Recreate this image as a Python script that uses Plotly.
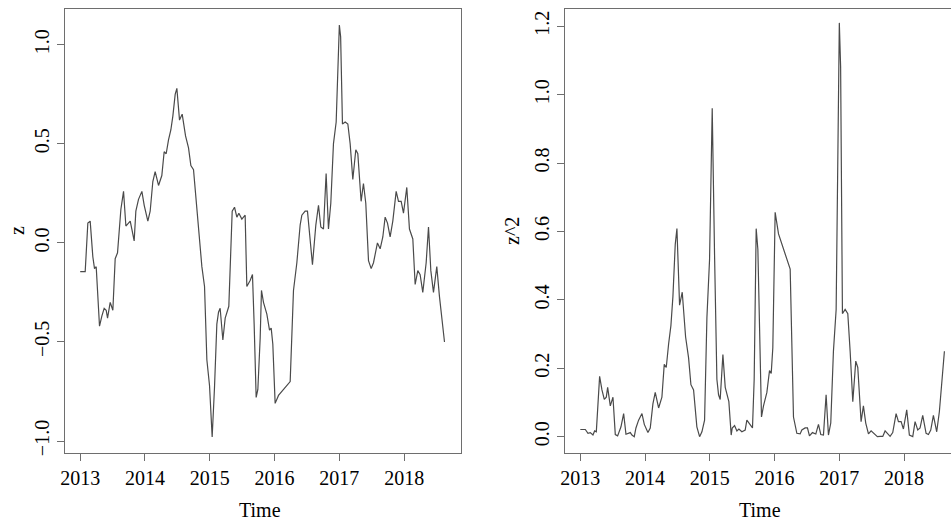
import plotly.graph_objects as go

# Time (decimal years) and series z
time = [2013.000, 2013.077, 2013.118, 2013.154, 2013.195, 2013.221, 2013.247, 2013.298,
        2013.334, 2013.370, 2013.401, 2013.422, 2013.463, 2013.504, 2013.540, 2013.576,
        2013.628, 2013.669, 2013.705, 2013.772, 2013.797, 2013.833, 2013.859, 2013.900,
        2013.952, 2013.988, 2014.044, 2014.080, 2014.121, 2014.157, 2014.209, 2014.260,
        2014.296, 2014.327, 2014.363, 2014.399, 2014.430, 2014.466, 2014.492, 2014.533,
        2014.574, 2014.626, 2014.672, 2014.708, 2014.749, 2014.800, 2014.842, 2014.878,
        2014.919, 2014.955, 2014.996, 2015.037, 2015.073, 2015.109, 2015.135, 2015.160,
        2015.202, 2015.238, 2015.294, 2015.330, 2015.346, 2015.382, 2015.418, 2015.449,
        2015.495, 2015.546, 2015.572, 2015.623, 2015.659, 2015.685, 2015.716, 2015.742,
        2015.778, 2015.798, 2015.829, 2015.881, 2015.922, 2015.948, 2015.973, 2016.009,
        2016.061, 2016.241, 2016.292, 2016.344, 2016.395, 2016.421, 2016.472, 2016.508,
        2016.539, 2016.585, 2016.637, 2016.678, 2016.714, 2016.755, 2016.796, 2016.832,
        2016.868, 2016.909, 2016.951, 2017.000, 2017.020, 2017.048, 2017.090, 2017.131,
        2017.167, 2017.208, 2017.254, 2017.285, 2017.336, 2017.372, 2017.408, 2017.450,
        2017.491, 2017.527, 2017.588, 2017.630, 2017.671, 2017.707, 2017.743, 2017.784,
        2017.825, 2017.877, 2017.913, 2017.954, 2017.990, 2018.041, 2018.082, 2018.134,
        2018.170, 2018.211, 2018.247, 2018.288, 2018.340, 2018.376, 2018.412, 2018.453,
        2018.504, 2018.545, 2018.623]

z = [-0.145, -0.145, 0.10, 0.11, -0.07, -0.13, -0.12, -0.42,
     -0.37, -0.33, -0.34, -0.38, -0.30, -0.34, -0.08, -0.05,
     0.17, 0.26, 0.085, 0.11, 0.07, 0.01, 0.16, 0.22,
     0.26, 0.19, 0.11, 0.16, 0.31, 0.36, 0.29, 0.34,
     0.46, 0.45, 0.52, 0.57, 0.64, 0.75, 0.78, 0.62,
     0.65, 0.54, 0.48, 0.39, 0.37, 0.17, 0.00, -0.12,
     -0.22, -0.59, -0.72, -0.98, -0.73, -0.41, -0.35, -0.33,
     -0.49, -0.38, -0.32, 0.07, 0.16, 0.18, 0.13, 0.15,
     0.12, 0.14, -0.22, -0.19, -0.16, -0.41, -0.78, -0.74,
     -0.48, -0.24, -0.30, -0.36, -0.44, -0.43, -0.51, -0.81,
     -0.77, -0.70, -0.24, -0.10, 0.09, 0.14, 0.16, 0.16,
     0.05, -0.11, 0.09, 0.19, 0.08, 0.07, 0.35, 0.07,
     0.20, 0.50, 0.61, 1.10, 1.04, 0.60, 0.61, 0.60,
     0.50, 0.32, 0.47, 0.45, 0.21, 0.30, 0.20, -0.09,
     -0.13, -0.10, 0.00, -0.03, 0.03, 0.13, 0.10, 0.03,
     0.11, 0.26, 0.21, 0.21, 0.15, 0.28, 0.07, 0.02,
     -0.21, -0.14, -0.16, -0.25, -0.10, 0.08, -0.14, -0.25,
     -0.12, -0.27, -0.50]

z_sq = [v * v for v in z]

year_ticks = [2013, 2014, 2015, 2016, 2017, 2018]
z_ticks = [-1.0, -0.5, 0.0, 0.5, 1.0]
z_tick_text = ["\u22121.0", "\u22120.5", "0.0", "0.5", "1.0"]
zsq_ticks = [0.0, 0.2, 0.4, 0.6, 0.8, 1.0, 1.2]
zsq_tick_text = ["0.0", "0.2", "0.4", "0.6", "0.8", "1.0", "1.2"]

W, H = 951, 529
FONT = "Liberation Serif"
LINE = "#4a4a4a"
AX = "#6e6e6e"

fig = go.Figure()
fig.add_trace(go.Scatter(x=time, y=z, mode="lines", line=dict(color=LINE, width=1.2),
                         xaxis="x", yaxis="y", showlegend=False, hoverinfo="skip"))
fig.add_trace(go.Scatter(x=time, y=z_sq, mode="lines", line=dict(color=LINE, width=1.2),
                         xaxis="x2", yaxis="y2", showlegend=False, hoverinfo="skip"))

ydom = [1 - 453.3 / H, 1 - 9 / H]
common_x = dict(tickvals=year_ticks, ticks="outside", ticklen=7, tickcolor=AX, tickwidth=1.2,
                showline=True, linecolor=AX, linewidth=1.3, mirror=True,
                showgrid=False, zeroline=False, automargin=False,
                tickfont=dict(family=FONT, size=20, color="black"))
common_y = dict(ticks="outside", ticklen=7, tickcolor=AX, tickwidth=1.2,
                showline=True, linecolor=AX, linewidth=1.3,
                showgrid=False, zeroline=False, tickangle=-90, automargin=False,
                tickfont=dict(family=FONT, size=20, color="black"))

fig.update_layout(
    width=W, height=H,
    margin=dict(l=0, r=0, t=0, b=0),
    paper_bgcolor="white", plot_bgcolor="white",
    xaxis=dict(domain=[65.3 / W, 460.5 / W], range=[2012.77, 2018.87], anchor="y", **common_x),
    yaxis=dict(domain=ydom, range=[-1.0621, 1.1807], anchor="x", mirror=True,
               tickvals=z_ticks, ticktext=z_tick_text, **common_y),
    xaxis2=dict(domain=[565.3 / W, 1.0], range=[2012.768, 2012.768 + (951 - 565.3) / 64.75],
                anchor="y2", **common_x),
    yaxis2=dict(domain=ydom, range=[-0.0485, 1.2506], anchor="x2", mirror=False,
                tickvals=zsq_ticks, ticktext=zsq_tick_text, **common_y),
)

def ann(text, x, y, angle=0):
    fig.add_annotation(text=text, x=x / W, y=1 - y / H, xref="paper", yref="paper",
                       showarrow=False, textangle=angle, xanchor="center", yanchor="middle",
                       font=dict(family=FONT, size=20, color="black"))

ann("Time", 260, 510)
ann("Time", 760, 510)
ann("z", 17, 231, -90)
ann("z^2", 512, 231, -90)

fig.write_html("out.html", config={"displayModeBar": False},
               post_script="document.body.style.margin='0';document.body.style.overflow='hidden';")
